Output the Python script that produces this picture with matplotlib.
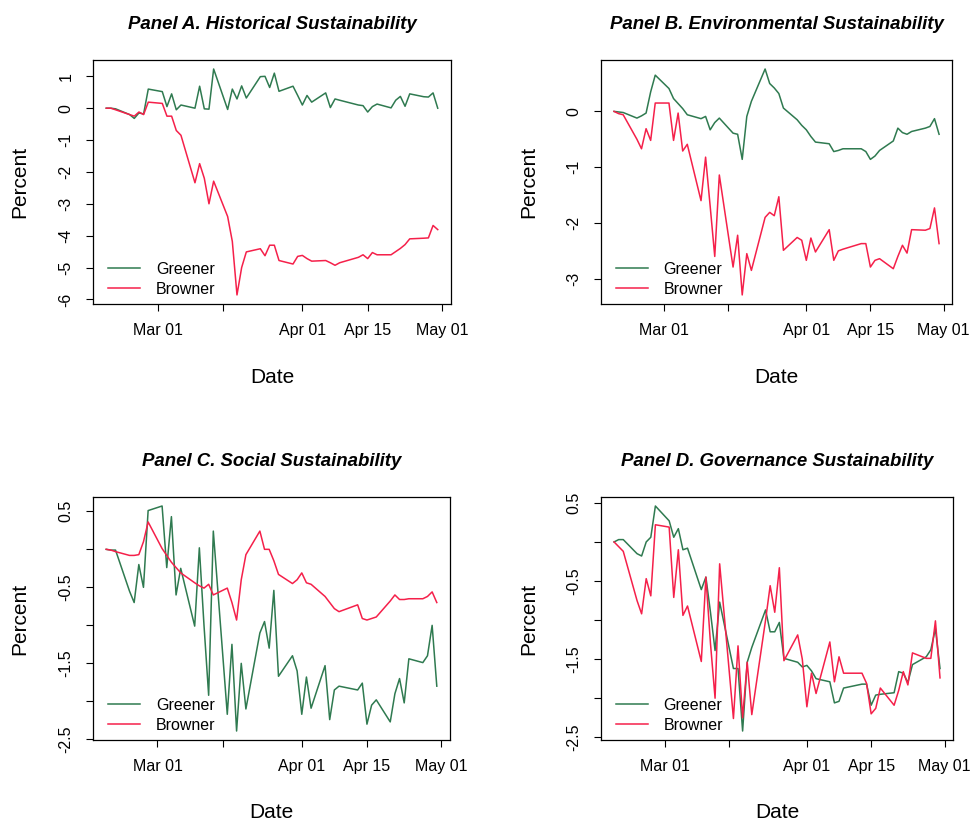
import pandas as pd
import matplotlib
matplotlib.use("Agg")
import matplotlib.pyplot as plt

plt.rcParams['font.family'] = ['Liberation Sans', 'DejaVu Sans']

# NYSE trading days, Feb 19 - Apr 30 2020 (Good Friday closed)
dates = pd.bdate_range('2020-02-19', '2020-04-30').drop(pd.Timestamp('2020-04-10'))

hist_green = [0, 0.0, -0.02, -0.2, -0.32, -0.15, -0.18, 0.6,
              0.52, 0.05, 0.45, -0.05, 0.1, 0.0, 0.69, -0.02, -0.03, 1.23,
              -0.04, 0.6, 0.29, 0.7, 0.32, 0.99, 1.0, 0.65, 1.1, 0.53, 0.69, 0.4,
              0.1, 0.4, 0.19, 0.48, 0.02, 0.29, 0.25, 0.1, 0.08, -0.12, 0.05, 0.13,
              0.01, 0.25, 0.37, 0.06, 0.45, 0.36, 0.35, 0.48, 0.0]
hist_brown = [0, 0, -0.05, -0.2, -0.25, -0.12, -0.2, 0.19,
              0.15, -0.25, -0.25, -0.7, -0.85, -2.34, -1.74, -2.2, -3.0, -2.29,
              -3.4, -4.18, -5.86, -5.0, -4.51, -4.41, -4.63, -4.3, -4.3, -4.78, -4.89, -4.65,
              -4.62, -4.72, -4.8, -4.78, -4.85, -4.93, -4.85, -4.68, -4.6, -4.72, -4.53, -4.6,
              -4.6, -4.5, -4.4, -4.28, -4.1, -4.08, -4.07, -3.68, -3.81]

env_green = [0, -0.01, -0.02, -0.12, -0.08, -0.03, 0.35, 0.65,
             0.41, 0.23, 0.14, 0.05, -0.06, -0.13, -0.09, -0.33, -0.2, -0.12,
             -0.39, -0.41, -0.86, -0.09, 0.18, 0.76, 0.5, 0.42, 0.32, 0.06, -0.15, -0.25,
             -0.33, -0.45, -0.55, -0.58, -0.72, -0.7, -0.67, -0.67, -0.72, -0.86, -0.8, -0.7,
             -0.53, -0.3, -0.38, -0.41, -0.36, -0.3, -0.27, -0.13, -0.41]
env_brown = [0, -0.04, -0.06, -0.5, -0.67, -0.31, -0.52, 0.15,
             0.15, -0.52, -0.03, -0.71, -0.59, -1.6, -0.82, -1.7, -2.6, -1.14,
             -2.79, -2.22, -3.29, -2.55, -2.85, -1.9, -1.81, -1.87, -1.53, -2.49, -2.26, -2.31,
             -2.67, -2.27, -2.52, -2.12, -2.67, -2.5, -2.47, -2.37, -2.37, -2.79, -2.67, -2.64,
             -2.82, -2.6, -2.4, -2.54, -2.12, -2.13, -2.1, -1.73, -2.37]

soc_green = [0, -0.01, -0.01, -0.55, -0.7, -0.2, -0.5, 0.51,
             0.57, -0.24, 0.43, -0.6, -0.25, -1.01, 0.02, -1.0, -1.92, 0.24,
             -2.17, -1.25, -2.39, -1.5, -2.1, -1.1, -0.95, -1.3, -0.54, -1.67, -1.4, -1.6,
             -2.17, -1.68, -2.09, -1.53, -2.24, -1.85, -1.8, -1.85, -1.76, -2.3, -2.05, -1.98,
             -2.27, -1.9, -1.7, -2.02, -1.44, -1.49, -1.4, -1.0, -1.8]
soc_brown = [0, -0.01, -0.03, -0.08, -0.08, -0.07, 0.1, 0.36,
             0.01, -0.08, -0.17, -0.24, -0.31, -0.44, -0.48, -0.51, -0.46, -0.6,
             -0.51, -0.7, -0.93, -0.4, -0.07, 0.24, 0.0, 0.0, -0.15, -0.33, -0.45, -0.4,
             -0.31, -0.44, -0.46, -0.62, -0.7, -0.78, -0.82, -0.73, -0.91, -0.93, -0.91, -0.89,
             -0.68, -0.6, -0.66, -0.66, -0.65, -0.65, -0.62, -0.56, -0.7]

gov_green = [0, 0.03, 0.03, -0.15, -0.18, 0.0, 0.06, 0.46,
             0.27, 0.06, 0.17, -0.1, -0.08, -0.61, -0.45, -0.9, -1.39, -0.77,
             -1.62, -1.62, -2.42, -1.54, -1.35, -0.87, -1.15, -1.15, -1.03, -1.49, -1.54, -1.6,
             -1.58, -1.65, -1.75, -1.79, -2.06, -2.04, -1.87, -1.82, -1.82, -2.09, -1.96, -1.95,
             -1.93, -1.66, -1.68, -1.8, -1.57, -1.47, -1.38, -1.11, -1.62]
gov_brown = [0, -0.06, -0.12, -0.75, -0.92, -0.47, -0.69, 0.22,
             0.19, -0.71, -0.1, -0.94, -0.82, -1.53, -0.45, -1.3, -2.0, -0.28,
             -2.26, -1.33, -2.25, -1.54, -2.21, -1.0, -0.56, -0.9, -0.33, -1.52, -1.19, -1.5,
             -2.11, -1.68, -1.94, -1.28, -1.79, -1.47, -1.68, -1.68, -1.81, -2.2, -2.13, -1.87,
             -2.09, -1.9, -1.66, -1.83, -1.42, -1.49, -1.49, -1.01, -1.74]

titles = ['Panel A. Historical Sustainability', 'Panel B. Environmental Sustainability',
          'Panel C. Social Sustainability', 'Panel D. Governance Sustainability']
series = [(hist_green, hist_brown), (env_green, env_brown),
          (soc_green, soc_brown), (gov_green, gov_brown)]

xtick_dates = pd.to_datetime(['2020-03-01', '2020-03-15', '2020-04-01', '2020-04-15', '2020-05-01'])
xtick_labels = ['Mar 01', '', 'Apr 01', 'Apr 15', 'May 01']

ytick_sets = [
    ([1, 0, -1, -2, -3, -4, -5, -6], ['1', '0', '-1', '-2', '-3', '-4', '-5', '-6']),
    ([0, -1, -2, -3], ['0', '-1', '-2', '-3']),
    ([0.5, 0, -0.5, -1, -1.5, -2, -2.5], ['0.5', '', '-0.5', '', '-1.5', '', '-2.5']),
    ([0.5, 0, -0.5, -1, -1.5, -2, -2.5], ['0.5', '', '-0.5', '', '-1.5', '', '-2.5']),
]

green = '#2f7a50'
brown = '#f5204a'

fig = plt.figure(figsize=(9.8, 8.26), dpi=100)
boxes = [(0.0949, 0.6320, 0.3653, 0.2954), (0.6133, 0.6320, 0.3582, 0.2954),
         (0.0949, 0.1041, 0.3643, 0.2942), (0.6133, 0.1041, 0.3592, 0.2942)]

for box, title, (g, b), (yt, yl) in zip(boxes, titles, series, ytick_sets):
    ax = fig.add_axes(box)
    ax.plot(dates, g, color=green, lw=1.1, label='Greener')
    ax.plot(dates, b, color=brown, lw=1.1, label='Browner')
    ax.margins(x=0.04, y=0.04)

    ax.set_xticks(xtick_dates)
    ax.set_xticklabels(xtick_labels)
    ax.set_yticks(yt)
    ax.set_yticklabels(yl, rotation=90, va='center')
    ax.tick_params(direction='out', length=5, width=0.8, labelsize=11.5, pad=9)
    for s in ax.spines.values():
        s.set_linewidth(0.9)

    ax.set_title(title, fontsize=13.4, fontweight='bold', style='italic', pad=22)
    ax.set_xlabel('Date', fontsize=15, va='center')
    ax.set_ylabel('Percent', fontsize=15, va='center')
    ax.xaxis.set_label_coords(0.5, -0.30)
    ax.yaxis.set_label_coords(-0.205, 0.5)

    ax.legend(loc='lower left', bbox_to_anchor=(0.042, 0.03), frameon=False,
              fontsize=11.5, handlelength=2.0, handletextpad=1.0, labelspacing=0.3,
              borderaxespad=0, borderpad=0)

fig.savefig('out.png', dpi=100)
